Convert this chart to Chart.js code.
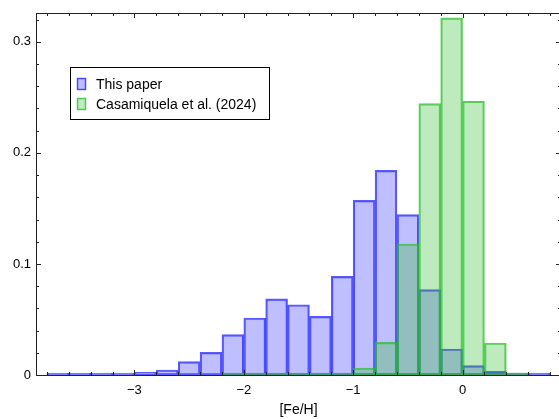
<!DOCTYPE html>
<html>
<head>
<meta charset="utf-8">
<script src="https://cdn.jsdelivr.net/npm/chart.js@4.4.1/dist/chart.umd.min.js"></script>
<style>
  html, body { margin: 0; padding: 0; background: #fff; overflow: hidden; }
  #wrap { width: 561px; height: 419px; }
</style>
</head>
<body>
<div id="wrap"><canvas id="chart" width="561" height="419"></canvas></div>
<script>
// [Fe/H] bin centres, bins are 0.2 dex wide
const binCentres = [-3.7, -3.5, -3.3, -3.1, -2.9, -2.7, -2.5, -2.3, -2.1, -1.9, -1.7, -1.5,
                    -1.3, -1.1, -0.9, -0.7, -0.5, -0.3, -0.1, 0.1, 0.3, 0.5, 0.7];

// normalised counts (fraction of sample per bin)
const thisPaper = [0.0008, 0.0008, 0.0008, 0.0008, 0.0027, 0.0045, 0.012, 0.0204, 0.0363, 0.0513, 0.0685, 0.0633,
                   0.0528, 0.0888, 0.1573, 0.1843, 0.1444, 0.0769, 0.0234, 0.0084, 0.0033, 0.0015, 0.0009];
const casamiquela = [null, null, null, null, null, null, null, null, 0.0005, 0.0005, 0.0005, 0.0006,
                     0.0008, 0.0016, 0.0063, 0.0294, 0.118, 0.2444, 0.3216, 0.2465, 0.0288, 0.0012, null];

const seriesLabels = ['This paper', 'Casamiquela et al. (2024)'];
const xTickValues = [-3, -2, -1, 0];
const yTickValues = [0, 0.1, 0.2, 0.3];
const xTitle = '[Fe/H]';

const FONT = 'Liberation Sans, Arial, sans-serif';
Chart.defaults.font.family = FONT;
Chart.defaults.color = '#000';

function fmtTick(v) {
    if (v < 0) return '\u2212' + Math.abs(v);
    return String(v);
}

// frame with inward ticks on all four sides + boxed legend
const frameAndLegend = {
    id: 'frameAndLegend',
    afterDraw(chart) {
        const ctx = chart.ctx;
        const a = chart.chartArea;
        const x = chart.scales.x;
        const y = chart.scales.y;
        ctx.save();
        ctx.strokeStyle = '#222';
        ctx.lineWidth = 1;
        ctx.strokeRect(Math.round(a.left) + 0.5, Math.round(a.top) + 0.5,
                       Math.round(a.right - a.left), Math.round(a.bottom - a.top));

        ctx.beginPath();
        // x minor every 0.2, major at integers
        for (let i = -19; i <= 4; i++) {
            const v = i * 0.2;
            const px = Math.round(x.getPixelForValue(v)) + 0.5;
            const major = Math.abs(v - Math.round(v)) < 1e-6;
            const len = major ? 5 : 3;
            ctx.moveTo(px, a.bottom); ctx.lineTo(px, a.bottom - len);
            ctx.moveTo(px, a.top); ctx.lineTo(px, a.top + len);
        }
        // y minor every 0.02, major every 0.1
        for (let i = 0; i <= 16; i++) {
            const v = i * 0.02;
            const py = Math.round(y.getPixelForValue(v)) + 0.5;
            const len = i % 5 === 0 ? 5 : 3;
            ctx.moveTo(a.left, py); ctx.lineTo(a.left + len, py);
            ctx.moveTo(a.right, py); ctx.lineTo(a.right - len, py);
        }
        ctx.stroke();

        // legend
        const lx = 70, ly = 67, lw = 199, lh = 52;
        ctx.fillStyle = '#fff';
        ctx.fillRect(lx, ly, lw, lh);
        ctx.strokeStyle = '#000';
        ctx.strokeRect(lx + 0.5, ly + 0.5, lw, lh);
        ctx.font = '14px ' + FONT;
        ctx.textBaseline = 'middle';
        ctx.textAlign = 'left';
        chart.data.datasets.forEach((ds, i) => {
            const cy = ly + 17 + i * 20;
            ctx.fillStyle = ds.backgroundColor;
            ctx.fillRect(77, cy - 6, 9, 12);
            ctx.strokeStyle = ds.borderColor;
            ctx.lineWidth = 1.5;
            ctx.strokeRect(77.5, cy - 5.5, 8, 11);
            ctx.fillStyle = '#000';
            ctx.fillText(ds.label, 96, cy + 1);
        });
        ctx.restore();
    }
};

const ctx = document.getElementById('chart').getContext('2d');
const myChart = new Chart(ctx, {
    type: 'bar',
    data: {
        datasets: [{
            label: seriesLabels[0],
            data: binCentres.map((c, i) => ({x: c, y: thisPaper[i]})),
            backgroundColor: 'rgba(0, 0, 255, 0.25)',
            borderColor: 'rgba(20, 20, 255, 0.7)',
            borderWidth: 1.5,
            borderSkipped: false,
            grouped: false,
            barPercentage: 1,
            categoryPercentage: 1,
            minBarLength: 2,
            order: 1
        }, {
            label: seriesLabels[1],
            data: binCentres.map((c, i) => ({x: c, y: casamiquela[i]})),
            backgroundColor: 'rgba(40, 190, 40, 0.3)',
            borderColor: 'rgba(40, 190, 40, 0.75)',
            borderWidth: 1.5,
            borderSkipped: false,
            grouped: false,
            barPercentage: 1,
            categoryPercentage: 1,
            minBarLength: 2,
            order: 0
        }]
    },
    options: {
        responsive: false,
        animation: false,
        layout: { padding: { top: 13, right: 0, bottom: 0, left: 0 } },
        plugins: {
            legend: { display: false },
            tooltip: { enabled: false }
        },
        scales: {
            x: {
                type: 'linear',
                min: -3.9,
                max: 0.9,
                offset: false,
                grid: { display: false, drawTicks: false },
                border: { display: false },
                afterBuildTicks: s => { s.ticks = xTickValues.map(v => ({value: v})); },
                afterFit: s => { s.height = 44; },
                ticks: {
                    font: { size: 13 },
                    padding: 8,
                    maxRotation: 0,
                    callback: v => fmtTick(v)
                },
                title: {
                    display: true,
                    text: xTitle,
                    font: { size: 14 },
                    padding: { top: 0, bottom: 0 }
                }
            },
            y: {
                min: 0,
                max: 0.326,
                grid: { display: false, drawTicks: false },
                border: { display: false },
                afterBuildTicks: s => { s.ticks = yTickValues.map(v => ({value: v})); },
                afterFit: s => { s.width = 36; },
                ticks: {
                    font: { size: 13 },
                    padding: 5,
                    callback: v => fmtTick(v)
                }
            }
        }
    },
    plugins: [frameAndLegend]
});
</script>
</body>
</html>
